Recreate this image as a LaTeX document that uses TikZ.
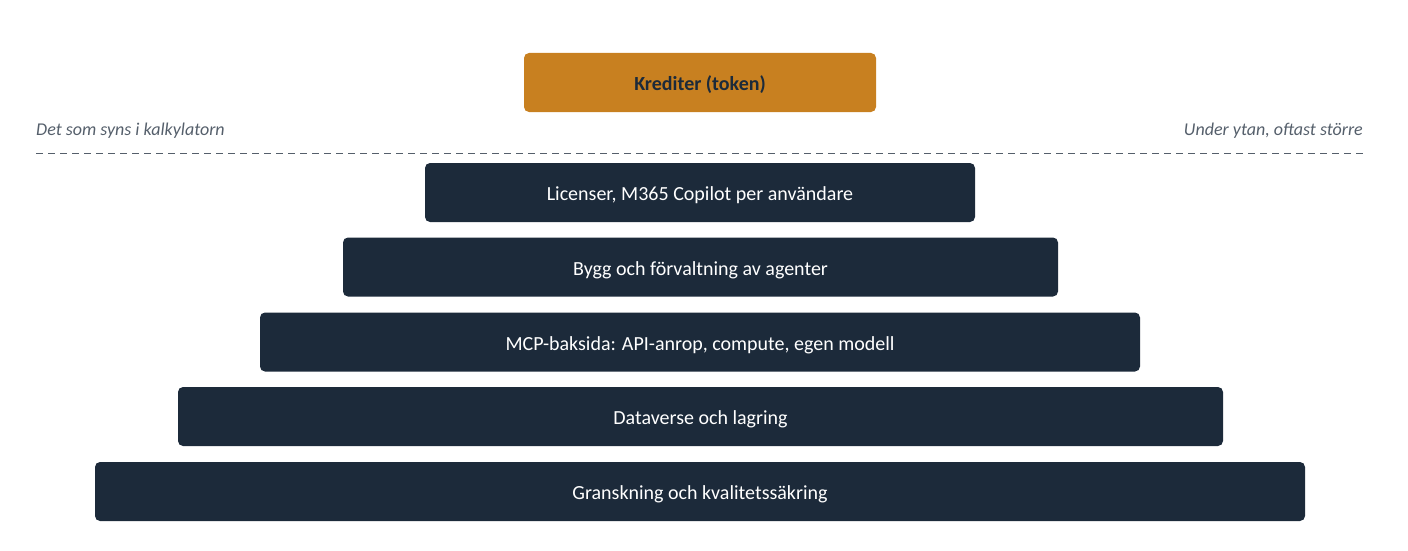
\documentclass[tikz,border=0pt]{standalone}
\usepackage{fontspec}
\setmainfont{Carlito}
\usetikzlibrary{positioning}

\definecolor{navy}{HTML}{1C2A3A}
\definecolor{amber}{HTML}{C88020}
\definecolor{slate}{HTML}{555F6B}

\tikzset{
  layer/.style={fill=navy,rounded corners=5pt,text=white,minimum height=59pt,
    inner sep=0pt,text height=16pt,text depth=0pt,font=\fontsize{20}{22}\selectfont},
  credit/.style={fill=amber,rounded corners=5pt,text=navy,minimum height=59pt,
    inner sep=0pt,text height=16pt,text depth=0pt,font=\fontsize{20}{22}\selectfont\bfseries},
  side/.style={text=slate,inner sep=0pt,font=\fontsize{18}{20}\selectfont\itshape}
}

\begin{document}
\begin{tikzpicture}[x=1pt,y=-1pt]
  \useasboundingbox (0,0) rectangle (1408,551);
  \node[credit,minimum width=352pt] (kred) at (700,82.5) {Krediter (token)};
  \node[side,anchor=west] (syns) at (36,131) {Det som syns i kalkylatorn};
  \node[side,anchor=east] (ytan) at (1363,131) {Under ytan, oftast större};
  \coordinate (linL) at (36,153);
  \coordinate (linR) at (1366,153);
  \draw[slate,thick,dash pattern=on 7pt off 5pt] (linL) -- (linR);
  % lagren under ytan
  \node[layer,minimum width=550pt] (lic) at (700,192.5) {Licenser, M365 Copilot per användare};
  \node[layer,minimum width=715pt] (bygg) at (700.5,267) {Bygg och förvaltning av agenter};
  \node[layer,minimum width=880pt] (mcp) at (700,342) {MCP-baksida: API-anrop, compute, egen modell};
  \node[layer,minimum width=1045pt] (data) at (700.5,416.5) {Dataverse och lagring};
  \node[layer,minimum width=1210pt] (gransk) at (700,491.5) {Granskning och kvalitetssäkring};
\end{tikzpicture}
\end{document}
